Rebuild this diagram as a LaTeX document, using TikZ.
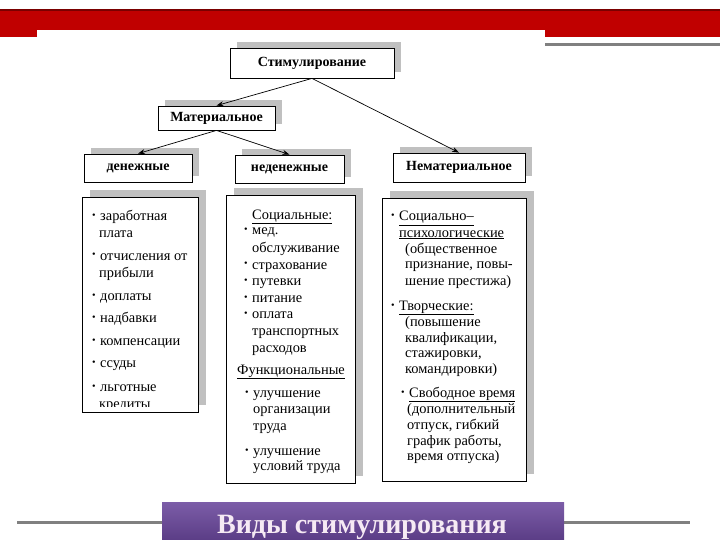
\documentclass[tikz,border=0pt]{standalone}
\usepackage{fontspec}
\setmainfont{Liberation Serif}
\usetikzlibrary{shadows,arrows.meta}
\definecolor{shadowgray}{HTML}{C0C0C0}
\definecolor{bandred}{HTML}{C00000}
\definecolor{darkred}{HTML}{7A0000}
\definecolor{linegray}{HTML}{808080}
\definecolor{purtop}{HTML}{7C5DA8}
\definecolor{purbot}{HTML}{5B3D86}
\definecolor{titlecol}{HTML}{F6EAF4}
\newcommand\bul{\makebox[8pt][l]{\raisebox{2pt}{\scalebox{0.7}{•}}}}
\newcommand\Lt[4]{\node[lt] (#1) at (#2,#3) {#4};}
\begin{document}
\begin{tikzpicture}[x=1pt,y=-1pt,
  hdr/.style={draw=black, line width=0.8pt, fill=white, inner sep=0pt,
    font=\fontsize{14}{16}\selectfont\bfseries,
    drop shadow={shadow xshift=7pt, shadow yshift=6pt, fill=shadowgray, opacity=1}},
  bigbox/.style={draw=black, line width=0.8pt, fill=white, inner sep=0pt,
    drop shadow={shadow xshift=8pt, shadow yshift=7pt, fill=shadowgray, opacity=1}},
  lt/.style={anchor=base west, inner sep=0pt, font=\fontsize{14.4}{16}\selectfont},
  arr/.style={-{Stealth[length=7pt,width=5pt]}, line width=0.7pt}]
\useasboundingbox (0,0) rectangle (720,540);
% top band
\fill[bandred] (0,9) rectangle (720,30);
\fill[bandred] (0,9) rectangle (37,37);
\fill[bandred] (545,9) rectangle (720,37);
\fill[darkred] (0,9) rectangle (720,11);
\fill[linegray] (545,43) rectangle (720,46);
% header boxes
\node[hdr, minimum width=164pt, minimum height=30pt] (stim) at (312,63) {Стимулирование};
\node[hdr, minimum width=117pt, minimum height=24pt] (mat) at (216.5,118) {Материальное};
\node[hdr, minimum width=108pt, minimum height=28pt] (den) at (138,168) {денежные};
\node[hdr, minimum width=109pt, minimum height=28pt] (neden) at (289.5,169) {неденежные};
\node[hdr, minimum width=132pt, minimum height=29pt] (nemat) at (459,167.5) {Нематериальное};
% arrows
\draw[arr] (stim.south) -- (mat.north);
\draw[arr] (stim.south) -- (nemat.north);
\draw[arr] (mat.south) -- (den.north);
\draw[arr] (mat.south) -- (neden.north);
% big boxes
\node[bigbox, minimum width=116pt, minimum height=215pt] (lbox) at (140,304.5) {};
\node[bigbox, minimum width=129pt, minimum height=288pt] (mbox) at (290.5,339) {};
\node[bigbox, minimum width=144pt, minimum height=283pt] (rbox) at (454,339.5) {};
% left box text
\begin{scope}
\clip (83,198) rectangle (197,406);
\Lt{l1}{92}{221}{\bul заработная}
\Lt{l2}{99}{237}{плата}
\Lt{l3}{92}{260}{\bul отчисления от}
\Lt{l4}{99}{277}{прибыли}
\Lt{l5}{92}{300}{\bul доплаты}
\Lt{l6}{92}{322}{\bul надбавки}
\Lt{l7}{92}{345}{\bul компенсации}
\Lt{l8}{92}{367}{\bul ссуды}
\Lt{l9}{92}{391}{\bul льготные}
\Lt{l10}{99}{408}{кредиты}
\end{scope}
% middle box text
\Lt{m1}{252}{219}{\underline{Социальные:}}
\Lt{m2}{244}{235}{\bul мед.}
\Lt{m3}{252}{252}{обслуживание}
\Lt{m4}{244}{269}{\bul страхование}
\Lt{m5}{244}{285}{\bul путевки}
\Lt{m6}{244}{302}{\bul питание}
\Lt{m7}{244}{318}{\bul оплата}
\Lt{m8}{252}{335}{транспортных}
\Lt{m9}{252}{352}{расходов}
\Lt{m10}{237}{374}{\underline{Функциональные}}
\Lt{m11}{245}{397}{\bul улучшение}
\Lt{m12}{253}{413}{организации}
\Lt{m13}{253}{430}{труда}
\Lt{m14}{245}{455}{\bul улучшение}
\Lt{m15}{253}{470}{условий труда}
% right box text
\Lt{r1}{391}{221}{\bul\underline{Социально–}}
\Lt{r2}{399}{237}{\underline{психологические}}
\Lt{r3}{405}{253}{(общественное}
\Lt{r4}{405}{268}{признание, повы-}
\Lt{r5}{405}{285}{шение престижа)}
\Lt{r6}{391}{310}{\bul\underline{Творческие:}}
\Lt{r7}{405}{326}{(повышение}
\Lt{r8}{405}{342}{квалификации,}
\Lt{r9}{405}{357}{стажировки,}
\Lt{r10}{405}{373}{командировки)}
\Lt{r11}{401}{397}{\bul\underline{Свободное время}}
\Lt{r12}{407}{413}{(дополнительный}
\Lt{r13}{407}{429}{отпуск, гибкий}
\Lt{r14}{407}{445}{график работы,}
\Lt{r15}{407}{460}{время отпуска)}
% bottom
\fill[linegray] (17,520.5) rectangle (162,523.5);
\fill[linegray] (564,520.5) rectangle (690,523.5);
\shade[top color=purtop, bottom color=purbot] (162,502) rectangle (564,540);
\node[font=\fontsize{28}{30}\selectfont\bfseries, text=titlecol, inner sep=0pt, anchor=base] (title) at (362,533) {Виды стимулирования};
\end{tikzpicture}
\end{document}
